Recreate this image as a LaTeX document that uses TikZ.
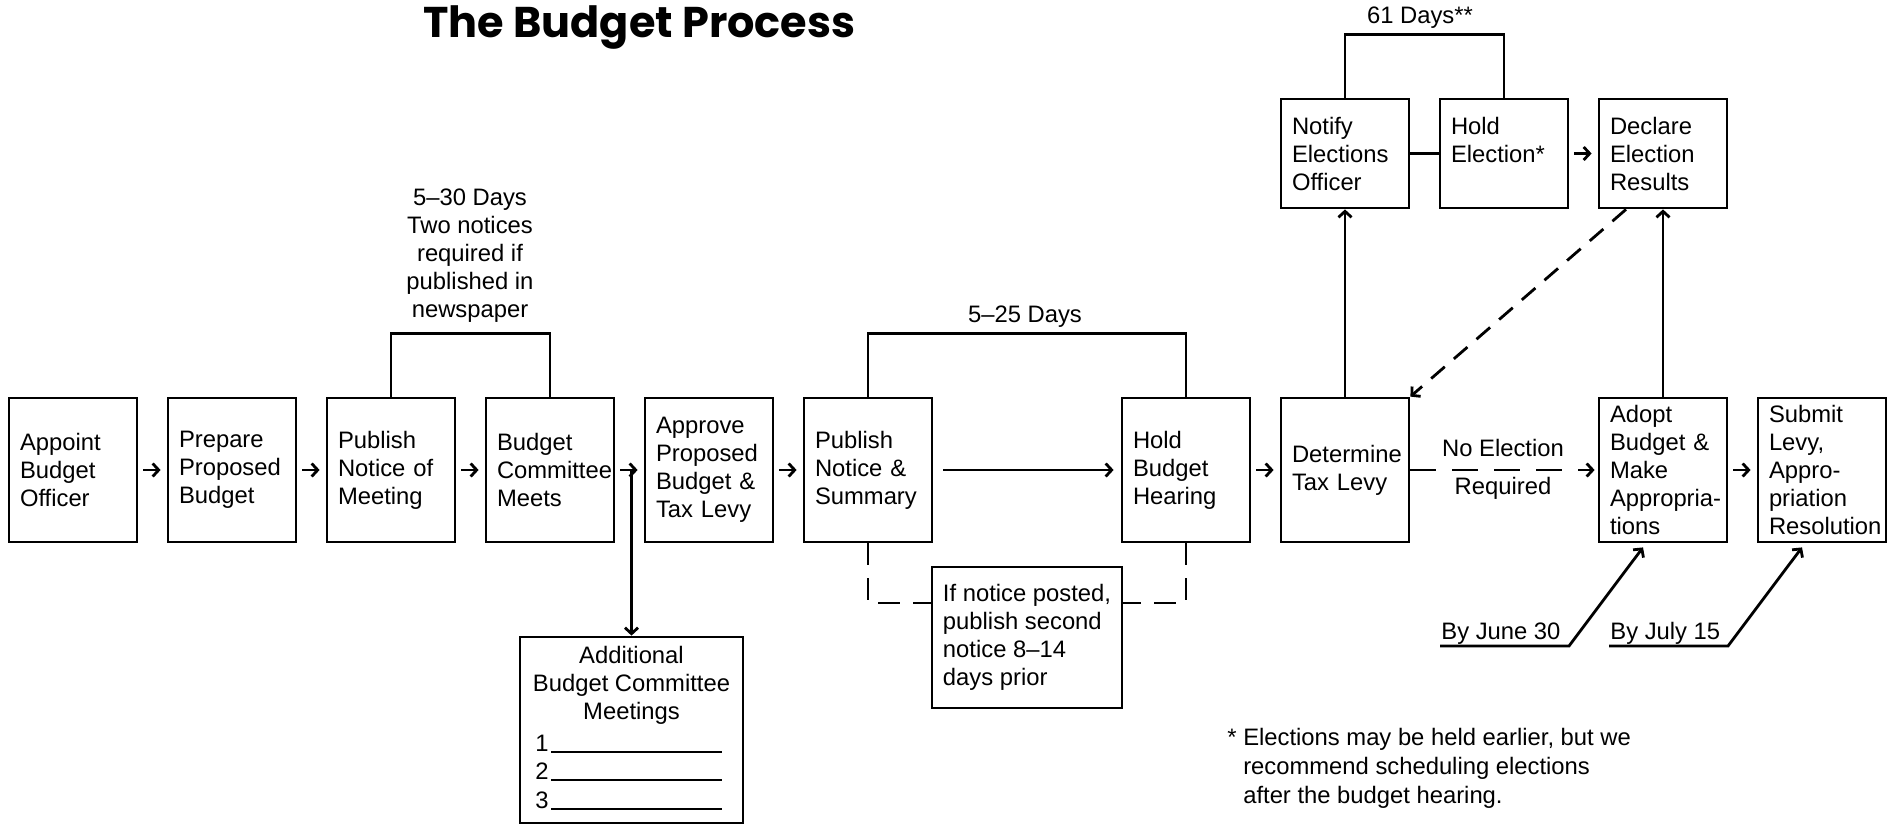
\documentclass[tikz,border=0pt]{standalone}
\usepackage{fontspec}
\setmainfont{Liberation Sans}
\newfontfamily\titlefont{Poppins}
\usetikzlibrary{arrows.meta}
\hyphenpenalty=10000
\exhyphenpenalty=10000
\begin{document}
\begin{tikzpicture}[x=0.5pt,y=-0.5pt,
  line width=1.4pt,
  every node/.style={font=\fontsize{11.9}{14}\selectfont},
  box/.style={draw, line width=1.4pt, minimum width=64pt, minimum height=72pt,
    text width=53pt, inner xsep=5.5pt, inner ysep=0pt, align=left},
  tbox/.style={box, minimum height=54.5pt},
  arr/.style={-{Straight Barb[length=3pt,width=6.5pt,line width=1.4pt]}},
  gap/.style={arr, shorten <=2.5pt, shorten >=3pt},
  dline/.style={dash pattern=on 11pt off 6.5pt},
  plain/.style={inner sep=0pt}
]
\useasboundingbox (0,0) rectangle (1892,825);

% title
\node[plain, anchor=base west, font=\titlefont\fontsize{21.5}{25}\selectfont\bfseries] (title) at (422,37) {The Budget Process};

% main row
\node[box] (b1) at (73,470) {Appoint\\Budget\\Officer};
\node[box] (b2) at (232,470) {Prepare\\Proposed\\Budget};
\node[box] (b3) at (391,470) {Publish\\Notice of\\Meeting};
\node[box] (b4) at (550,470) {Budget\\Committee\\Meets};
\node[box] (b5) at (709,470) {Approve\\Proposed\\Budget \&\\Tax Levy};
\node[box] (b6) at (868,470) {Publish\\Notice \&\\Summary};
\node[box] (b7) at (1186,470) {Hold\\Budget\\Hearing};
\node[box] (b8) at (1345,470) {Determine\\Tax Levy};
\node[box] (b9) at (1663,470) {Adopt\\Budget \&\\Make\\Appropria-\\tions};
\node[box] (b10) at (1822,470) {Submit\\Levy,\\Appro-\\priation\\Resolution};

% top row
\node[tbox] (nt) at (1345,153.5) {Notify\\Elections\\Officer};
\node[tbox] (he) at (1504,153.5) {Hold\\Election*\\\mbox{}};
\node[tbox] (de) at (1663,153.5) {Declare\\Election\\Results};

% info box
\node[draw, line width=1.4pt, minimum width=95pt, minimum height=70.5pt,
  inner sep=0pt, align=left] (info) at (1027,637.5)
  {If notice posted,\\publish second\\notice 8–14\\days prior};

% additional meetings box
\node[draw, line width=1.4pt, minimum width=111.5pt, minimum height=93pt] (ad) at (631.5,730) {};
\node[align=center] (adt) at (631.5,685) {Additional\\Budget Committee\\Meetings};
\node[plain, anchor=base west] (n1) at (534,751) {1};
\node[plain, anchor=base west] (n2) at (534,779) {2};
\node[plain, anchor=base west] (n3) at (534,808) {3};
\draw (551,752) -- (722,752);
\draw (551,780) -- (722,780);
\draw (551,809) -- (722,809);

% labels
\node[align=center] (l530) at (470,256) {5–30 Days\\Two notices\\required if\\published in\\newspaper};
\node (l525) at (1025,317) {5–25 Days};
\node (l61) at (1420,18) {61 Days**};
\node (ne1) at (1503,448) {No Election};
\node (ne2) at (1503,488) {Required};
\node[plain, anchor=base west] (j30) at (1440,639) {By June 30};
\node[plain, anchor=base west] (j15) at (1609,639) {By July 15};
\node[plain, anchor=north west, align=left, font=\fontsize{11.9}{14.5}\selectfont] (fn) at (1226,727)
  {* Elections may be held earlier, but we\\\hphantom{* }recommend scheduling elections\\\hphantom{* }after the budget hearing.};

% brackets
\draw (b3.north) -- ++(0,-63) -| (b4.north);
\draw (b6.north) -- ++(0,-63) -| (b7.north);
\draw (nt.north) -- ++(0,-63) -| (he.north);

% main arrows
\draw[gap] (b1) -- (b2);
\draw[gap] (b2) -- (b3);
\draw[gap] (b3) -- (b4);
\draw[gap] (b4) -- (b5);
\draw[gap] (b5) -- (b6);
\draw[arr, shorten <=5pt, shorten >=3.5pt] (b6) -- (b7);
\draw[gap] (b7) -- (b8);
\draw[gap] (b9) -- (b10);
\draw[arr, dash pattern=on 13pt off 8pt, shorten >=1.5pt] (b8) -- (b9);
\draw[arr] (ad.north |- b4.east) -- (ad.north);

% info dashed links
\coordinate (yl) at (0,603);
\draw[dline] (b6.south) |- (info.west |- yl);
\draw[dline] (b7.south) |- (info.east |- yl);

% election part
\draw (nt) -- (he);
\draw[gap] (he) -- (de);
\draw[arr] (b8) -- (nt);
\draw[arr] (b9) -- (de);
\draw[arr, dash pattern=on 9pt off 6pt] ([xshift=-18.5pt]de.south) -- (b8.north east);

% deadlines
\coordinate (j30s) at (1440,646);
\coordinate (j30e) at (1569,646);
\coordinate (j15s) at (1609,646);
\coordinate (j15e) at (1728,646);
\draw[arr] (j30s) -- (j30e) -- ([xshift=-10pt,yshift=-2pt]b9.south);
\draw[arr] (j15s) -- (j15e) -- ([xshift=-10pt,yshift=-2pt]b10.south);
\end{tikzpicture}
\end{document}
